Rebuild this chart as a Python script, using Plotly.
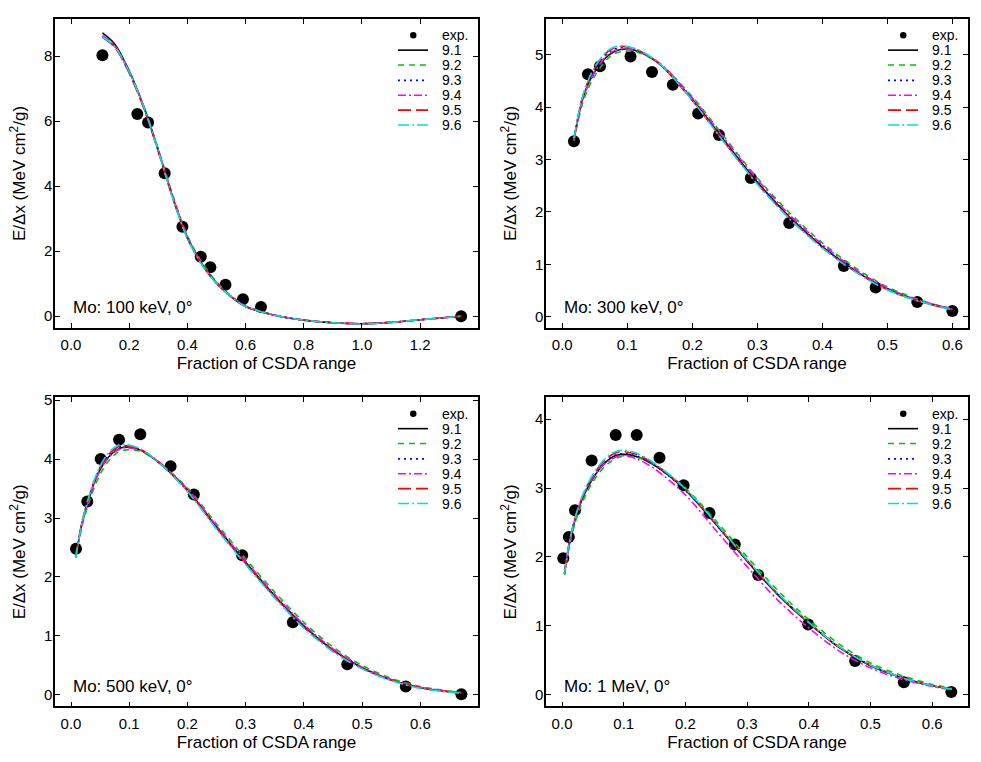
import plotly.graph_objects as go

versions = ["9.1", "9.2", "9.3", "9.4", "9.5", "9.6"]
colors = ["#000000", "#00c800", "#0000ff", "#ff00ff", "#ff0000", "#00e0e0"]
dashes = ["solid", "6px,5px", "2px,4px", "8px,3px,2px,3px", "13px,5px", "11px,3px,2px,3px"]
labels = ["Mo: 100 keV, 0°", "Mo: 300 keV, 0°", "Mo: 500 keV, 0°", "Mo: 1 MeV, 0°"]

# 100 keV
p100_x_exp = [0.108, 0.228, 0.265, 0.322, 0.383, 0.446, 0.479, 0.531, 0.591, 0.653, 1.341]
p100_y_exp = [8.03, 6.22, 5.96, 4.40, 2.75, 1.83, 1.51, 0.97, 0.52, 0.28, 0.0]
p100_x_fit = [0.108, 0.15, 0.2, 0.25, 0.3, 0.35, 0.4, 0.45, 0.5, 0.55, 0.6, 0.7, 0.8, 0.9, 1.0, 1.1, 1.2, 1.341]
p100_v91 = [8.72, 8.38, 7.55, 6.45, 5.10, 3.65, 2.42, 1.60, 1.02, 0.60, 0.30, 0.03, -0.12, -0.20, -0.23, -0.19, -0.11, 0.00]
p100_v92 = [8.60, 8.30, 7.50, 6.45, 5.15, 3.72, 2.48, 1.66, 1.06, 0.63, 0.32, 0.04, -0.12, -0.20, -0.23, -0.19, -0.11, 0.00]
p100_v93 = [8.62, 8.32, 7.52, 6.44, 5.10, 3.66, 2.43, 1.61, 1.03, 0.61, 0.30, 0.03, -0.12, -0.20, -0.23, -0.19, -0.11, 0.00]
p100_v94 = [8.63, 8.33, 7.54, 6.46, 5.12, 3.68, 2.45, 1.62, 1.03, 0.61, 0.31, 0.03, -0.12, -0.20, -0.23, -0.19, -0.11, 0.00]
p100_v95 = [8.58, 8.28, 7.48, 6.40, 5.06, 3.62, 2.40, 1.59, 1.01, 0.60, 0.30, 0.03, -0.12, -0.20, -0.23, -0.19, -0.11, 0.00]
p100_v96 = [8.60, 8.30, 7.52, 6.44, 5.08, 3.62, 2.39, 1.58, 1.01, 0.60, 0.30, 0.03, -0.12, -0.20, -0.24, -0.19, -0.11, 0.00]

# 300 keV
p300_x_exp = [0.018, 0.0395, 0.058, 0.105, 0.138, 0.170, 0.209, 0.241, 0.290, 0.349, 0.433, 0.482, 0.546, 0.600]
p300_y_exp = [3.35, 4.63, 4.78, 4.97, 4.67, 4.43, 3.88, 3.47, 2.65, 1.79, 0.97, 0.56, 0.28, 0.11]
p300_x_fit = [0.018, 0.03, 0.04, 0.05, 0.06, 0.07, 0.08, 0.09, 0.1, 0.12, 0.15, 0.2, 0.25, 0.3, 0.35, 0.4, 0.45, 0.5, 0.55, 0.6]
p300_v91 = [3.38, 4.10, 4.45, 4.68, 4.85, 4.98, 5.06, 5.10, 5.11, 5.05, 4.82, 4.15, 3.35, 2.57, 1.90, 1.34, 0.88, 0.53, 0.30, 0.14]
p300_v92 = [3.36, 4.02, 4.36, 4.60, 4.78, 4.93, 5.02, 5.06, 5.07, 5.03, 4.83, 4.20, 3.42, 2.65, 1.98, 1.41, 0.94, 0.57, 0.32, 0.15]
p300_v93 = [3.40, 4.12, 4.48, 4.72, 4.90, 5.03, 5.11, 5.14, 5.13, 5.06, 4.82, 4.14, 3.34, 2.57, 1.91, 1.35, 0.89, 0.54, 0.30, 0.14]
p300_v94 = [3.38, 4.08, 4.43, 4.67, 4.86, 5.00, 5.08, 5.11, 5.11, 5.05, 4.84, 4.18, 3.39, 2.62, 1.94, 1.38, 0.91, 0.55, 0.31, 0.15]
p300_v95 = [3.40, 4.14, 4.50, 4.75, 4.93, 5.06, 5.13, 5.16, 5.15, 5.07, 4.82, 4.13, 3.32, 2.54, 1.88, 1.32, 0.87, 0.52, 0.29, 0.13]
p300_v96 = [3.41, 4.15, 4.52, 4.77, 4.95, 5.08, 5.15, 5.17, 5.16, 5.08, 4.83, 4.13, 3.31, 2.53, 1.86, 1.31, 0.86, 0.51, 0.29, 0.13]

# 500 keV
p500_x_exp = [0.0086, 0.028, 0.051, 0.0825, 0.119, 0.171, 0.211, 0.294, 0.381, 0.4745, 0.575, 0.6705]
p500_y_exp = [2.48, 3.28, 4.00, 4.33, 4.42, 3.88, 3.40, 2.37, 1.23, 0.52, 0.14, 0.01]
p500_x_fit = [0.008, 0.02, 0.03, 0.04, 0.05, 0.06, 0.07, 0.08, 0.09, 0.1, 0.12, 0.15, 0.2, 0.25, 0.3, 0.35, 0.4, 0.45, 0.5, 0.55, 0.6, 0.67]
p500_v91 = [2.35, 2.95, 3.30, 3.60, 3.82, 3.98, 4.09, 4.16, 4.20, 4.20, 4.15, 3.95, 3.48, 2.85, 2.25, 1.68, 1.17, 0.76, 0.46, 0.25, 0.12, 0.03]
p500_v92 = [2.33, 2.90, 3.24, 3.52, 3.74, 3.91, 4.03, 4.11, 4.15, 4.16, 4.13, 3.95, 3.51, 2.90, 2.31, 1.74, 1.23, 0.81, 0.50, 0.28, 0.14, 0.04]
p500_v93 = [2.36, 2.97, 3.32, 3.62, 3.85, 4.01, 4.12, 4.19, 4.22, 4.22, 4.16, 3.95, 3.47, 2.84, 2.24, 1.67, 1.16, 0.76, 0.46, 0.25, 0.12, 0.03]
p500_v94 = [2.35, 2.95, 3.29, 3.59, 3.81, 3.97, 4.08, 4.15, 4.19, 4.19, 4.15, 3.96, 3.49, 2.87, 2.27, 1.70, 1.19, 0.78, 0.47, 0.26, 0.13, 0.03]
p500_v95 = [2.36, 2.98, 3.33, 3.63, 3.86, 4.02, 4.13, 4.20, 4.23, 4.22, 4.16, 3.95, 3.46, 2.83, 2.23, 1.66, 1.15, 0.75, 0.45, 0.25, 0.12, 0.03]
p500_v96 = [2.32, 2.97, 3.34, 3.65, 3.88, 4.05, 4.16, 4.23, 4.25, 4.24, 4.17, 3.95, 3.45, 2.81, 2.21, 1.64, 1.13, 0.73, 0.44, 0.24, 0.11, 0.03]

# 1 MeV
p1m_x_exp = [0.002, 0.011, 0.021, 0.048, 0.087, 0.121, 0.158, 0.197, 0.239, 0.280, 0.318, 0.399, 0.475, 0.554, 0.631]
p1m_y_exp = [1.98, 2.29, 2.68, 3.40, 3.77, 3.77, 3.44, 3.04, 2.64, 2.18, 1.74, 1.02, 0.49, 0.18, 0.04]
p1m_x_fit = [0.004, 0.01, 0.02, 0.03, 0.04, 0.05, 0.06, 0.07, 0.08, 0.09, 0.1, 0.12, 0.15, 0.2, 0.25, 0.3, 0.35, 0.4, 0.45, 0.5, 0.55, 0.6, 0.632]
p1m_v91 = [1.75, 2.10, 2.50, 2.78, 2.98, 3.14, 3.27, 3.37, 3.44, 3.48, 3.49, 3.46, 3.33, 2.97, 2.47, 1.94, 1.45, 1.04, 0.68, 0.42, 0.25, 0.13, 0.08]
p1m_v92 = [1.74, 2.07, 2.46, 2.73, 2.93, 3.09, 3.22, 3.32, 3.39, 3.44, 3.46, 3.45, 3.34, 3.00, 2.52, 2.00, 1.51, 1.09, 0.73, 0.46, 0.28, 0.15, 0.09]
p1m_v93 = [1.76, 2.11, 2.51, 2.79, 2.99, 3.15, 3.28, 3.38, 3.45, 3.49, 3.50, 3.47, 3.33, 2.97, 2.47, 1.95, 1.46, 1.05, 0.69, 0.43, 0.25, 0.13, 0.08]
p1m_v94 = [1.76, 2.12, 2.52, 2.80, 3.00, 3.15, 3.27, 3.36, 3.42, 3.46, 3.47, 3.43, 3.28, 2.90, 2.38, 1.86, 1.37, 0.97, 0.63, 0.39, 0.23, 0.12, 0.07]
p1m_v95 = [1.77, 2.13, 2.53, 2.81, 3.02, 3.18, 3.31, 3.41, 3.48, 3.52, 3.53, 3.49, 3.35, 2.98, 2.48, 1.95, 1.46, 1.05, 0.69, 0.43, 0.25, 0.13, 0.08]
p1m_v96 = [1.75, 2.12, 2.53, 2.82, 3.03, 3.20, 3.33, 3.43, 3.50, 3.54, 3.55, 3.51, 3.36, 2.99, 2.49, 1.96, 1.47, 1.05, 0.69, 0.43, 0.25, 0.13, 0.08]

panels = [
    (p100_x_exp, p100_y_exp, p100_x_fit, [p100_v91, p100_v92, p100_v93, p100_v94, p100_v95, p100_v96]),
    (p300_x_exp, p300_y_exp, p300_x_fit, [p300_v91, p300_v92, p300_v93, p300_v94, p300_v95, p300_v96]),
    (p500_x_exp, p500_y_exp, p500_x_fit, [p500_v91, p500_v92, p500_v93, p500_v94, p500_v95, p500_v96]),
    (p1m_x_exp, p1m_y_exp, p1m_x_fit, [p1m_v91, p1m_v92, p1m_v93, p1m_v94, p1m_v95, p1m_v96]),
]

W, H = 981, 762
FONT = "Liberation Sans, Arial, sans-serif"

# pixel boxes of each panel (left, top, right, bottom)
boxes = [(55, 13.3, 478, 324.3), (546, 13.3, 968, 324.3),
         (55, 394.3, 478, 706), (546, 394.3, 968, 706)]
xranges = [[-0.055, 1.399], [-0.025, 0.624], [-0.0275, 0.699], [-0.026, 0.658]]
yranges = [[-0.355, 9.14], [-0.21, 5.68], [-0.197, 5.05], [-0.17, 4.32]]
xdticks = [0.2, 0.1, 0.1, 0.1]
ydticks = [2, 1, 1, 1]

fig = go.Figure()
layout = dict(width=W, height=H, margin=dict(l=0, r=0, t=0, b=0),
              paper_bgcolor="white", plot_bgcolor="white",
              font=dict(family=FONT, color="black", size=15),
              showlegend=False, shapes=[], annotations=[])

for i, (xe, ye, xf, fits) in enumerate(panels):
    n = "" if i == 0 else str(i + 1)
    xa, ya = "x" + n, "y" + n
    fig.add_trace(go.Scatter(x=xe, y=ye, mode="markers", name="exp.",
                             marker=dict(color="black", size=12),
                             xaxis=xa, yaxis=ya))
    for v, c, d, ys in zip(versions, colors, dashes, fits):
        fig.add_trace(go.Scatter(x=xf, y=ys, mode="lines", name=v,
                                 line=dict(color=c, dash=d, width=1.6, shape="spline", smoothing=0.9),
                                 xaxis=xa, yaxis=ya))

    l, t, r, b = boxes[i]
    common = dict(showline=True, linecolor="black", linewidth=1.5, mirror="allticks",
                  ticks="inside", ticklen=5, tickwidth=1.2, tickcolor="black",
                  showgrid=False, zeroline=False, tickfont=dict(size=15))
    layout["xaxis" + n] = dict(common, domain=[l / W, r / W], range=xranges[i],
                               anchor=ya, dtick=xdticks[i], tick0=0, tickformat=".1f",
                               ticklabelstandoff=3,
                               title=dict(text="Fraction of CSDA range", font=dict(size=17), standoff=5))
    layout["yaxis" + n] = dict(common, domain=[1 - b / H, 1 - t / H], range=yranges[i],
                               anchor=xa, dtick=ydticks[i], tick0=0, ticklabelstandoff=-2,
                               title=dict(text="E/\u0394x (MeV cm<sup>2</sup>/g)", font=dict(size=17), standoff=14))

    layout["annotations"].append(dict(text=labels[i], xref=xa + " domain", yref=ya + " domain",
                                      x=0.038, y=0.065, xanchor="left", yanchor="middle",
                                      showarrow=False, font=dict(size=17)))

    # legend drawn inside each panel
    ox = 0 if l < 300 else 490
    oy = 0 if t < 300 else 381.5
    sx0, sx1, tx = ox + 398, ox + 428, ox + 441
    rows = [29.5, 44.5, 59.5, 75, 90, 105, 120]
    cy = oy + rows[0]
    layout["shapes"].append(dict(type="circle", xref="paper", yref="paper",
                                 x0=(ox + 410) / W, x1=(ox + 416.5) / W,
                                 y0=1 - (cy + 3.3) / H, y1=1 - (cy - 3.3) / H,
                                 fillcolor="black", line=dict(color="black", width=0)))
    layout["annotations"].append(dict(text="exp.", xref="paper", yref="paper", x=tx / W, y=1 - cy / H,
                                      xanchor="left", yanchor="middle", showarrow=False,
                                      height=14, borderpad=0, font=dict(size=14)))
    for k, (v, c, d) in enumerate(zip(versions, colors, dashes)):
        cy = oy + rows[k + 1]
        layout["shapes"].append(dict(type="line", xref="paper", yref="paper",
                                     x0=sx0 / W, x1=sx1 / W, y0=1 - cy / H, y1=1 - cy / H,
                                     line=dict(color=c, dash=d, width=1.6)))
        layout["annotations"].append(dict(text=v, xref="paper", yref="paper", x=tx / W, y=1 - cy / H,
                                          xanchor="left", yanchor="middle", showarrow=False,
                                          height=14, borderpad=0, font=dict(size=14)))

fig.update_layout(**layout)
fig.write_html("out.html", config={"displayModeBar": False},
               post_script="document.body.style.margin='0px';")
